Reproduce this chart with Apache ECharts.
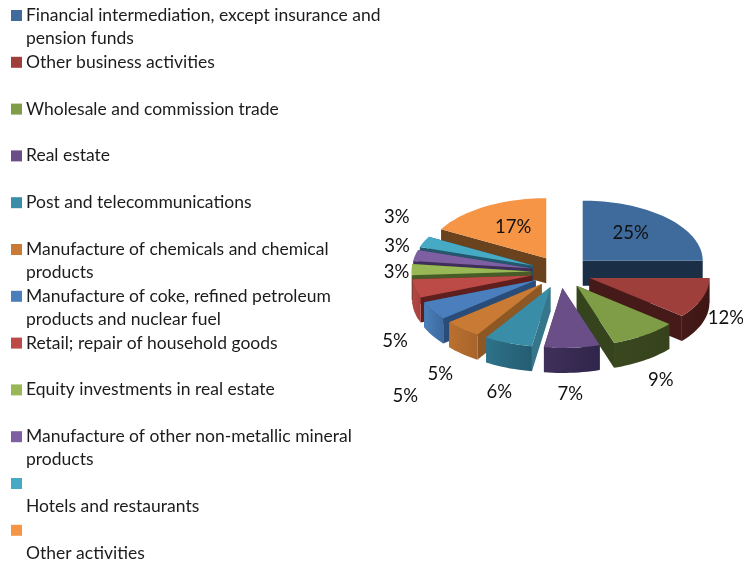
<!DOCTYPE html>
<html>
<head>
<meta charset="utf-8">
<style>html,body{margin:0;padding:0;background:#fff}#chart{width:743px;height:564px}</style>
<script src="https://cdn.jsdelivr.net/npm/echarts@6/dist/echarts.min.js"></script>
</head>
<body>
<div id="chart"></div>
<script>
// Share of investment by activity, in percent, clockwise from twelve o'clock.
const categories = [
  'Financial intermediation, except insurance and\npension funds',
  'Other business activities',
  'Wholesale and commission trade',
  'Real estate',
  'Post and telecommunications',
  'Manufacture of chemicals and chemical\nproducts',
  'Manufacture of coke, refined petroleum\nproducts and nuclear fuel',
  'Retail; repair of household goods',
  'Equity investments in real estate',
  'Manufacture of other non-metallic mineral\nproducts',
  '\nHotels and restaurants',
  '\nOther activities'
];
const shares = [25, 12, 9, 7, 6, 5, 5, 5, 3, 3, 3, 17];

// Face colours of each wedge.
const topColors = ['#3F6A9C', '#9F3F3C', '#7F9C47', '#6A4E88', '#3A8DA6', '#C97B35',
                   '#4A7EBD', '#BC4B48', '#98B855', '#7E60A2', '#46AAC5', '#F69546'];
const cutColors = ['#1A2E46', '#451A18', '#36441E', '#3A2C52', '#35768A', '#8E5824',
                   '#2A4C78', '#5E1F1D', '#485C28', '#3F2E5A', '#23576B', '#6A431E'];
const rimLeft   = ['#1A2E46', '#451A18', '#3A4820', '#3F305A', '#2E7289', '#BA7030',
                   '#4C7FB8', '#B24845', '#86A24A', '#6D5290', '#3D96AE', '#C47636'];
const rimRight  = ['#1A2E46', '#3E1614', '#35421C', '#30254A', '#245D72', '#A8642A',
                   '#3C6AA0', '#A8403D', '#7A9540', '#614882', '#358AA0', '#B06A30'];

// Label anchor relative to the outer edge of each wedge.
const labelNudges = [[-37, 15], [25, 18], [23, 43], [4, 46], [-7, 49], [-22, 45],
                     [-27, 85], [-20, 52], [-15, 2], [-18, -9], [-27, -25], [28, 20]];

// Pie projection.
const pie = { cx: 561.5, cy: 272, rx: 120, ry: 60, blastX: 30, blastY: 16, depth: 25 };
// Key block layout.
const key = { x: 11, y: 10, swatch: 11, gap: 15, rowStep: 46.8, lineHeight: 22.8, font: 17.5 };
const fontStack = 'Lato, "Open Sans", sans-serif';

const total = shares.reduce((a, b) => a + b, 0);
const rad = d => d * Math.PI / 180;

// Cumulative start and end angle of every wedge.
const spans = [];
shares.reduce((acc, v) => {
  const end = acc + v / total * 360;
  spans.push([acc, end]);
  return end;
}, 0);

// Foreshortening: the front right quadrant of a tilted pie reads slightly compressed.
const viewAngle = a => (a > 90 && a < 210) ? a - 4 * Math.sin(Math.PI * (a - 90) / 120) : a;

function wedgeShapes(i) {
  const [a0, a1] = spans[i];
  const mid = (a0 + a1) / 2;
  const ax = pie.cx + pie.blastX * Math.sin(rad(mid));
  const ay = pie.cy - pie.blastY * Math.cos(rad(mid));
  const rim = a => {
    const v = viewAngle(a);
    return [ax + pie.rx * Math.sin(rad(v)), ay - pie.ry * Math.cos(rad(v))];
  };
  const drop = p => [p[0], p[1] + pie.depth];
  const arc = (from, to) => {
    const n = Math.max(2, Math.ceil((to - from) / 2));
    const pts = [];
    for (let k = 0; k <= n; k++) pts.push(rim(from + (to - from) * k / n));
    return pts;
  };
  const apex = [ax, ay];
  // Back wedges are painted first so nearer ones overlap them.
  const z = 10 + Math.round(-Math.cos(rad(mid)) * 40);
  const kids = [];
  const cut = a => {
    const p = rim(a);
    return { type: 'polygon', z2: z, shape: { points: [apex, p, drop(p), drop(apex)] },
             style: { fill: cutColors[i] } };
  };
  kids.push(cut(a0), cut(a1));
  const w0 = Math.max(a0, 90), w1 = Math.min(a1, 270);
  if (w1 > w0) {
    const edge = arc(w0, w1);
    const xs = edge.map(p => p[0]);
    kids.push({
      type: 'polygon', z2: z,
      shape: { points: edge.concat(edge.map(drop).reverse()) },
      style: { fill: new echarts.graphic.LinearGradient(Math.min(...xs), 0, Math.max(...xs), 0,
        [{ offset: 0, color: rimLeft[i] }, { offset: 1, color: rimRight[i] }], true) }
    });
  }
  kids.push({ type: 'polygon', z2: z,
    shape: { points: [apex].concat(arc(a0, a1)) }, style: { fill: topColors[i] } });

  const outer = [pie.cx + (pie.blastX + pie.rx) * Math.sin(rad(mid)),
                 pie.cy - (pie.blastY + pie.ry) * Math.cos(rad(mid))];
  kids.push({ type: 'text', z2: 200, style: {
    text: shares[i] + '%', x: outer[0] + labelNudges[i][0], y: outer[1] + labelNudges[i][1],
    align: 'center', verticalAlign: 'middle', fill: '#111', font: '18.5px ' + fontStack } });
  return kids;
}

// Colour key on the left, one fixed-height row per activity.
const keyItems = categories.flatMap((name, i) => {
  const y = key.y + i * key.rowStep;
  return [
    { type: 'rect', shape: { x: key.x, y: y, width: key.swatch, height: key.swatch },
      style: { fill: topColors[i] } },
    { type: 'text', style: { text: name, x: key.x + key.gap, y: y - 6,
      font: key.font + 'px ' + fontStack, lineHeight: key.lineHeight, fill: '#1c1c1c',
      align: 'left', verticalAlign: 'top' } }
  ];
});

const chart = echarts.init(document.getElementById('chart'), null, { renderer: 'canvas' });
chart.setOption({
  animation: false,
  backgroundColor: '#fff',
  graphic: { elements: keyItems },
  series: [{
    type: 'custom',
    coordinateSystem: 'none',
    data: shares.map((v, i) => ({ name: categories[i].trim(), value: v })),
    renderItem: params => ({ type: 'group', children: wedgeShapes(params.dataIndex) })
  }]
});
</script>
</body>
</html>
